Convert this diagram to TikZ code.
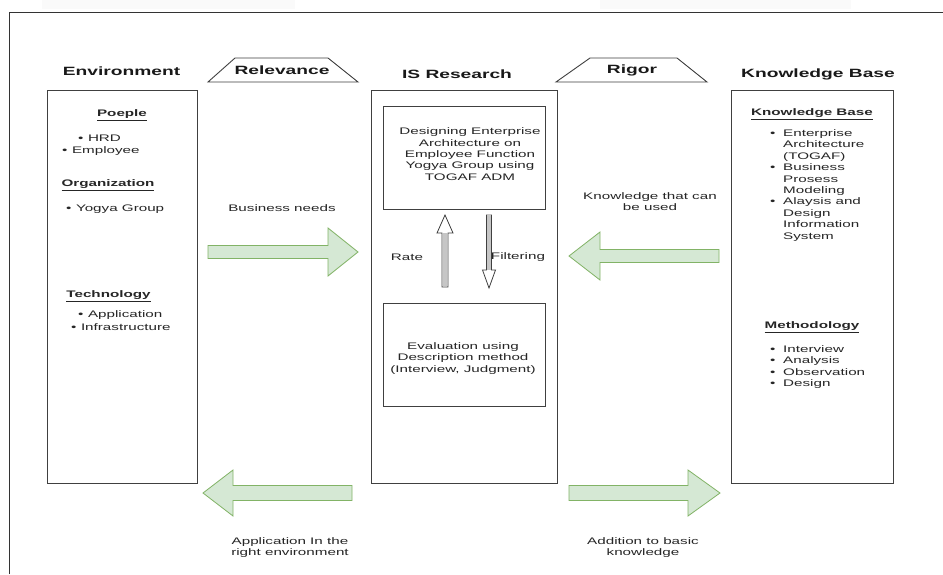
\documentclass[tikz,border=0pt]{standalone}
\usepackage{fontspec}
\setmainfont{Liberation Sans}[FakeStretch=1.6]
\definecolor{gfill}{HTML}{D5E8D4}
\definecolor{gline}{HTML}{82B366}
\newcommand\bul{\textbullet\hspace{4.5pt}}
% horizontal block arrow: tail, head base, tip, y centre, shaft half, head half
\newcommand\garrow[6]{%
  \draw[greenarrow] (#1,#4-#5) -- (#2,#4-#5) -- (#2,#4-#6) -- (#3,#4)
    -- (#2,#4+#6) -- (#2,#4+#5) -- (#1,#4+#5) -- cycle;}
% vertical hollow arrow: x centre, tail, head base, tip, shaft half, head half
\newcommand\varrow[6]{%
  \draw[hollowarrow] (#1-#5,#2) -- (#1-#5,#3) -- (#1-#6,#3) -- (#1,#4)
    -- (#1+#6,#3) -- (#1+#5,#3) -- (#1+#5,#2) -- cycle;
  \fill[gray!45] (#1-#5+0.8,#2-0.6) rectangle (#1+#5-0.8,#3);}
\begin{document}
\begin{tikzpicture}[x=1pt,y=-1pt,
  box/.style={draw=black!75, line width=0.9pt, inner sep=0pt},
  title/.style={font=\fontsize{12}{14}\selectfont\bfseries, text=black!90, inner sep=0pt},
  body/.style={font=\fontsize{9.5}{11.4}\selectfont, text=black!85, inner sep=0pt, align=center},
  head/.style={font=\fontsize{9.5}{11.4}\selectfont\bfseries, text=black!85, inner sep=0pt},
  item/.style={font=\fontsize{9.5}{11.4}\selectfont, text=black!85, inner sep=0pt, anchor=west},
  greenarrow/.style={fill=gfill, draw=gline, line width=0.8pt, line join=miter},
  hollowarrow/.style={fill=white, draw=black!75, line width=0.8pt, line join=miter}]
\useasboundingbox (0,0) rectangle (943,574);
\fill[white] (0,0) rectangle (943,574);
% faint patches at the top edge
\fill[black!2] (42,0) rectangle (295,9);
\fill[black!2] (600,0) rectangle (851,9);
% outer frame
\draw[black!80, line width=0.9pt] (9,574) -- (9,12) -- (943,12);

% titles
\node[title] (tenv) at (121.5,71) {Environment};
\node[title] (tisr) at (457,74) {IS Research};
\node[title] (tkb) at (818,74) {Knowledge Base};

% trapezoids
\draw[box] (208,82) -- (235,58) -- (328,58) -- (358,82) -- cycle;
\node[title] (rel) at (282,70) {Relevance};
\draw[box] (556,82) -- (590,58) -- (677,58) -- (707,82) -- cycle;
\node[title] (rig) at (632,70) {Rigor};

% main boxes
\node[box, minimum width=150pt, minimum height=393pt] (env) at (122,286.5) {};
\node[box, minimum width=186pt, minimum height=393pt] (isr) at (464,286.5) {};
\node[box, minimum width=162pt, minimum height=393pt] (kb) at (812,286.5) {};
\node[box, minimum width=162pt, minimum height=103pt] (design) at (464,157.5) {};
\node[box, minimum width=162pt, minimum height=103pt] (eval) at (464,354.5) {};

% IS research texts
\node[body] (dtxt) at (470,154) {Designing Enterprise\\Architecture on\\Employee Function\\Yogya Group using\\TOGAF ADM};
\node[body] (etxt) at (463,358.5) {Evaluation using\\Description method\\(Interview, Judgment)};
\varrow{445}{287}{233}{215}{3}{8}
\varrow{489}{215}{270}{288}{2.5}{6.5}
\node[body] (rate) at (407,257) {Rate};
\node[body] (filt) at (518,257) {Filtering};

% environment contents
\node[head] (pp) at (122,115) {\underline{Poeple}};
\node[item] (hrd) at (78,138) {\bul HRD};
\node[item] (emp) at (62,151) {\bul Employee};
\node[head] (org) at (108,185) {\underline{Organization}};
\node[item] (yog) at (66,209) {\bul Yogya Group};
\node[head] (tech) at (108.5,296) {\underline{Technology}};
\node[item] (app) at (78,315) {\bul Application};
\node[item] (inf) at (71,327) {\bul Infrastructure};

% knowledge base contents
\node[head] (kbh) at (812,114) {\underline{Knowledge Base}};
\node[item] (kbl) at (770,185.6) {\begin{tabular}{@{}l@{\hspace{7.7pt}}l@{}}
\textbullet & Enterprise\\ & Architecture\\ & (TOGAF)\\
\textbullet & Business\\ & Prosess\\ & Modeling\\
\textbullet & Alaysis and\\ & Design\\ & Information\\ & System
\end{tabular}};
\node[head] (meth) at (812,327) {\underline{Methodology}};
\node[item] (ml) at (770,367.2) {\begin{tabular}{@{}l@{\hspace{7.7pt}}l@{}}
\textbullet & Interview\\ \textbullet & Analysis\\ \textbullet & Observation\\ \textbullet & Design
\end{tabular}};

% green arrows and labels
\garrow{208}{328}{358}{252}{6.5}{24}
\node[body] (bn) at (282,208) {Business needs};
\garrow{719}{600}{569}{256}{6.5}{24}
\node[body] (ku) at (650,201.5) {Knowledge that can\\be used};
\garrow{352}{233}{203}{493}{7.5}{23}
\node[body] (ai) at (290,547.5) {Application In the\\right environment};
\garrow{569}{688}{720}{493}{7.5}{23}
\node[body] (ab) at (643,547.5) {Addition to basic\\knowledge};
\end{tikzpicture}
\end{document}
